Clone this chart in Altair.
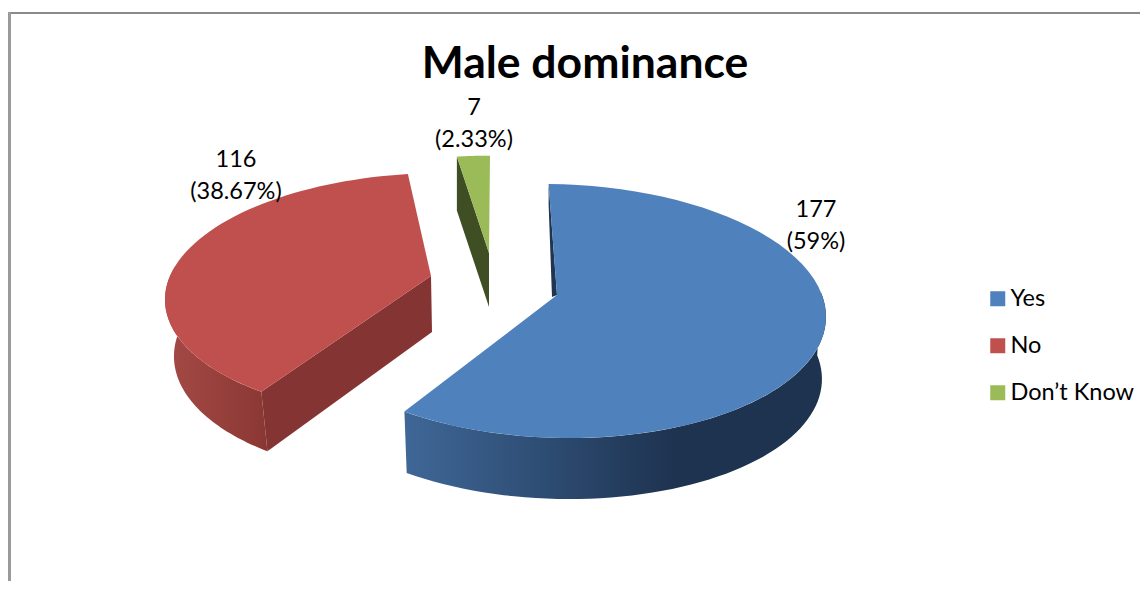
import math
import altair as alt
import pandas as pd

categories = ["Yes", "No", "Don’t Know"]
values = [177, 116, 7]
percents = ["59%", "38.67%", "2.33%"]
top_colors = ["#4f81bd", "#c0504d", "#9bbb59"]
cut_colors = ["#1f3552", "#843432", "#3f4f23"]

# drawing geometry of each exploded slice
apex = [(557, 295), (431, 276), (489, 253)]
apex_low = [(557, 357.5), (432, 332), (489, 307)]
radii = [(265, 125), (261, 119), (256, 110)]
persp = [0.126, 0.157, 0.13]
shear = [-12.5, 10, 1]
rotate = [1.0, 0.0, 0.0]
low_scale_x = [0.985, 0.97, 1.0]
low_scale_y = [0.99, 1.03, 1.0]

W, H = 1132, 573
total = sum(values)
spans = []
acc = 0
for v in values:
    spans.append((acc / total * 360, (acc + v) / total * 360))
    acc += v


def rim(i, deg, low=False):
    th = math.radians(deg + rotate[i])
    X, Y = math.sin(th), -math.cos(th)
    s = 1 / (1 - persp[i] * Y)
    dx = radii[i][0] * X * s - shear[i] * Y
    dy = radii[i][1] * Y * s
    if low:
        return (apex_low[i][0] + low_scale_x[i] * dx, apex_low[i][1] + low_scale_y[i] * dy)
    return (apex[i][0] + dx, apex[i][1] + dy)


def steps(a, b, n=60):
    return [a + (b - a) * k / n for k in range(n + 1)]


def frame(pts, name):
    return pd.DataFrame({"x": [p[0] for p in pts], "y": [p[1] for p in pts],
                         "o": range(len(pts)), "cat": name})


xs = alt.Scale(domain=[8, 8 + W], range=[0, W], nice=False, zero=False)
ys = alt.Scale(domain=[8, 8 + H], range=[0, H], nice=False, zero=False)


def poly(df, fill):
    return alt.Chart(df).mark_line(fill=fill, stroke="transparent", strokeWidth=0, interpolate="linear-closed").encode(
        x=alt.X("x:Q", scale=xs, axis=None),
        y=alt.Y("y:Q", scale=ys, axis=None),
        order="o:Q",
    )


def grad(stops):
    return alt.Gradient(gradient="linear", x1=0, x2=1, y1=0, y2=0,
                        stops=[alt.GradientStop(offset=o, color=c) for o, c in stops])


layers = []

# outer walls
red_a = steps(spans[1][0], 275)
red_wall = [rim(1, d) for d in red_a] + [rim(1, d, True) for d in reversed(red_a)]
layers.append(poly(frame(red_wall, "r"), grad([(0, "#a54a46"), (1, "#8a3733")])))
blue_a = steps(88, spans[0][1])
blue_wall = [rim(0, d) for d in blue_a] + [rim(0, d, True) for d in reversed(blue_a)]
layers.append(poly(frame(blue_wall, "b"), grad([(0, "#3f6797"), (0.3, "#2f4f76"), (0.64, "#1e3350"), (1, "#1e3350")])))

# cut walls
red_cut = [apex[1], rim(1, spans[1][0]), rim(1, spans[1][0], True), apex_low[1]]
layers.append(poly(frame(red_cut, "r"), cut_colors[1]))
gp = [rim(2, spans[2][0]), rim(2, spans[2][0], True), apex_low[2], apex[2]]
layers.append(poly(frame(gp, "g"), cut_colors[2]))
blue_top_pt = rim(0, 0)
blue_cut = [blue_top_pt, (blue_top_pt[0], blue_top_pt[1] + 20), (apex[0][0] - 5, apex[0][1] + 2), apex[0]]
layers.append(poly(frame(blue_cut, "b"), cut_colors[0]))

# top faces with legend
tops = []
for i, c in enumerate(categories):
    pts = [apex[i]] + [rim(i, d) for d in steps(*spans[i])]
    tops.append(frame(pts, c))
top_df = pd.concat(tops)
layers.append(
    alt.Chart(top_df).mark_line(stroke="transparent", strokeWidth=0, interpolate="linear-closed").encode(
        x=alt.X("x:Q", scale=xs, axis=None),
        y=alt.Y("y:Q", scale=ys, axis=None),
        order="o:Q",
        detail="cat:N",
        fill=alt.Fill(
            "cat:N",
            scale=alt.Scale(domain=categories, range=top_colors),
            legend=alt.Legend(
                title=None, orient="none", legendX=978, legendY=279,
                symbolType="square", symbolSize=225, symbolStrokeWidth=0,
                labelFont="Lato", labelFontSize=23.5, labelColor="#000000",
                rowPadding=22, labelOffset=1, symbolOffset=0,
            ),
        ),
    )
)

# frame lines of the picture
border_h = pd.DataFrame({"x": [8], "x2": [1148], "y": [13]})
border_v = pd.DataFrame({"x": [9.5], "y": [12], "y2": [589]})
layers.append(alt.Chart(border_h).mark_rule(color="#8a8a8a", strokeWidth=2).encode(
    x=alt.X("x:Q", scale=xs, axis=None), x2="x2:Q", y=alt.Y("y:Q", scale=ys, axis=None)))
layers.append(alt.Chart(border_v).mark_rule(color="#9a9a9a", strokeWidth=3).encode(
    x=alt.X("x:Q", scale=xs, axis=None), y=alt.Y("y:Q", scale=ys, axis=None), y2="y2:Q"))

# texts
label_df = pd.DataFrame({
    "x": [816, 236, 474],
    "y": [210, 160, 108],
    "t": [f"{v}\n({p})" for v, p in zip(values, percents)],
})
layers.append(alt.Chart(label_df).mark_text(font="Lato", fontSize=23.5, lineBreak="\n", lineHeight=32, color="#000000", baseline="middle").encode(
    x=alt.X("x:Q", scale=xs, axis=None), y=alt.Y("y:Q", scale=ys, axis=None), text="t:N"))
title_df = pd.DataFrame({"x": [585], "y": [65], "t": ["Male dominance"]})
layers.append(alt.Chart(title_df).mark_text(font="Lato", fontSize=44.5, fontWeight="bold", color="#000000", baseline="middle").encode(
    x=alt.X("x:Q", scale=xs, axis=None), y=alt.Y("y:Q", scale=ys, axis=None), text="t:N"))

chart = alt.layer(*layers).resolve_scale(fill="independent").properties(
    width=W, height=H, padding=0, background="#ffffff", autosize=alt.AutoSizeParams(type="none")
).configure_view(stroke=None)

chart.save("out.html", embed_options={"renderer": "svg", "actions": False})
